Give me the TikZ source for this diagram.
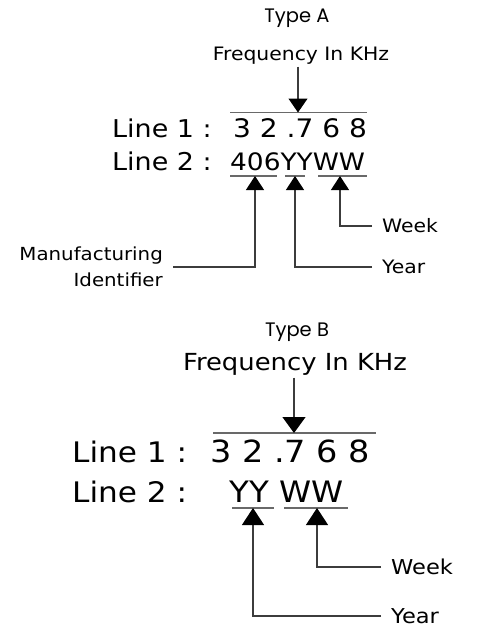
\documentclass[tikz,border=0pt]{standalone}
\usepackage{fontspec}
\setmainfont{DejaVu Sans}[FakeStretch=1.1]
\newfontfamily\typefont{Poppins}
\usetikzlibrary{arrows.meta,positioning}
\definecolor{rulegray}{RGB}{105,105,105}
\definecolor{leadgray}{RGB}{60,60,60}
\newcommand{\pxsize}[1]{\fontsize{#1}{#1}\selectfont}

\begin{document}
\begin{tikzpicture}[x=1pt,y=-1pt,
  typelbl/.style={font=\typefont\pxsize{19.5},anchor=base,inner sep=0pt},
  freq/.style={anchor=base,inner sep=2.5pt},
  linetxt/.style={anchor=base west,inner sep=0pt},
  sidelbl/.style={font=\pxsize{18.5},inner xsep=10pt,inner ysep=0pt},
  rule/.style={rulegray,line width=1.3pt},
  lead/.style={leadgray,line width=1.1pt},
  downA/.style={-{Triangle[width=19pt,length=14pt,black]}},
  upA/.style={-{Triangle[width=18pt,length=14pt,black]}},
  downB/.style={-{Triangle[width=23pt,length=16pt,black]}},
  upB/.style={-{Triangle[width=22pt,length=17pt,black]}}]
  \useasboundingbox (0,0) rectangle (477,629);

  % Type A
  \node[typelbl] (typeA) at (297,23) {Type A};
  \node[freq,font=\pxsize{18.5}] (freqA) at (301,60) {Frequency In KHz};
  \coordinate (tipF1) at (298,112.5);
  \draw[rule] (230,112.5) -- (367,112.5);
  \draw[lead,downA] (freqA.south -| tipF1) -- (tipF1);

  \node[linetxt,font=\pxsize{24.5}] (l1A) at (112,137) {Line 1 :};
  \node[linetxt,font=\pxsize{25.5}] (d1A) at (233,137) {3 2 .7 6 8};
  \node[linetxt,font=\pxsize{24.5}] (l2A) at (112,170) {Line 2 :};
  \node[linetxt,font=\pxsize{24}] (d2A) at (230,170) {406YYWW};

  \draw[rule] (230,176) -- (277,176);
  \draw[rule] (285,176) -- (305,176);
  \draw[rule] (318,176) -- (367,176);
  \coordinate (tipM1) at (255,176);
  \coordinate (tipY1) at (295,176);
  \coordinate (tipW1) at (340,176);

  \node[sidelbl,anchor=west] (weekA) at (372,226) {Week};
  \node[sidelbl,anchor=west] (yearA) at (372,267) {Year};
  \node[sidelbl,anchor=east,align=right,font=\fontsize{18}{26}\selectfont]
    (manuA) at (173,267) {Manufacturing\\Identifier};
  \draw[lead,upA] (weekA.west) -| (tipW1);
  \draw[lead,upA] (yearA.west) -| (tipY1);
  \draw[lead,upA] (manuA.east) -| (tipM1);

  % Type B
  \node[typelbl] (typeB) at (297,336) {Type B};
  \node[freq,font=\pxsize{23.5}] (freqB) at (295,370) {Frequency In KHz};
  \coordinate (tipF2) at (294,433);
  \draw[rule] (213,433) -- (376,433);
  \draw[lead,downB] (freqB.south -| tipF2) -- (tipF2);

  \node[linetxt,font=\pxsize{28.3}] (l1B) at (72,462) {Line 1 :};
  \node[linetxt,font=\pxsize{30.5}] (d1B) at (210,462) {3 2 .7 6 8};
  \node[linetxt,font=\pxsize{28.3}] (l2B) at (72,502) {Line 2 :};
  \node[linetxt,font=\pxsize{29.5}] (d2B) at (229,502) {YY WW};

  \draw[rule] (232,508) -- (274,508);
  \draw[rule] (284,508) -- (348,508);
  \coordinate (tipY2) at (253,508);
  \coordinate (tipW2) at (317,508);

  \node[sidelbl,anchor=west,font=\pxsize{20.5}] (weekB) at (381,567) {Week};
  \node[sidelbl,anchor=west,font=\pxsize{20.5}] (yearB) at (381,616) {Year};
  \draw[lead,upB] (weekB.west) -| (tipW2);
  \draw[lead,upB] (yearB.west) -| (tipY2);
\end{tikzpicture}
\end{document}
